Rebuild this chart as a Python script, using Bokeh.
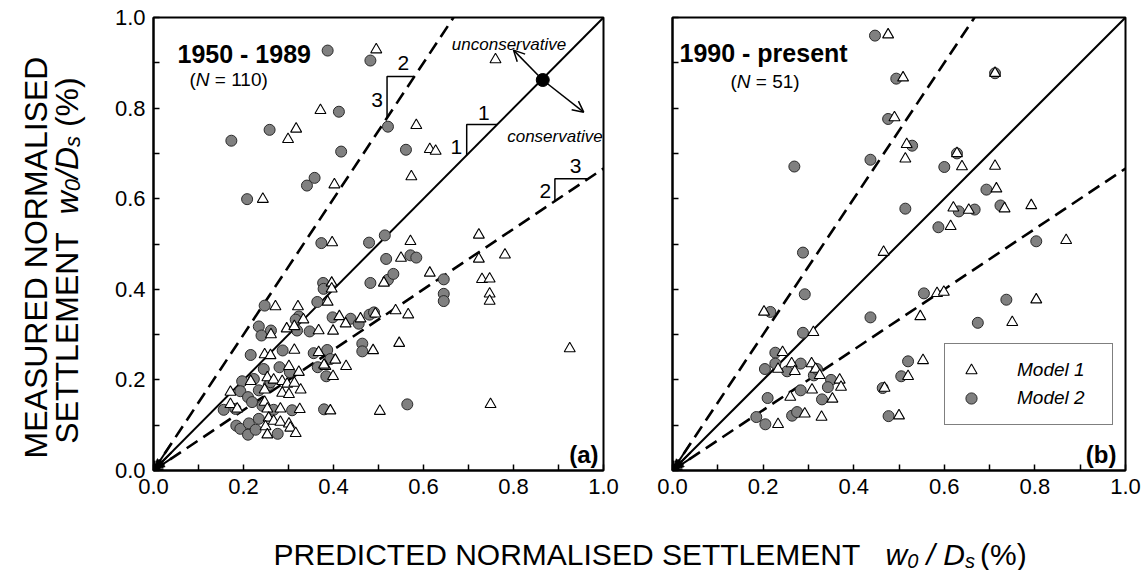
import math
from bokeh.plotting import figure
from bokeh.layouts import row, column
from bokeh.models import (Range1d, FixedTicker, PrintfTickFormatter, Label, Arrow,
                          NormalHead, OpenHead, Legend, LegendItem)
from bokeh.embed import file_html
from bokeh.resources import INLINE

FONT = "Liberation Sans"

# ---------------- data ----------------
# Panel (a) 1950 - 1989
a_model1_x = [0.495, 0.760, 0.371, 0.317, 0.299, 0.584, 0.614, 0.627, 0.573, 0.402,
              0.243, 0.397, 0.571, 0.723, 0.723, 0.781, 0.550, 0.396, 0.396, 0.512,
              0.614, 0.730, 0.747, 0.747, 0.747, 0.925, 0.749, 0.503, 0.271, 0.321,
              0.387, 0.413, 0.460, 0.493, 0.538, 0.566, 0.427, 0.399, 0.367, 0.333,
              0.296, 0.313, 0.261, 0.247, 0.260, 0.313, 0.367, 0.404, 0.382, 0.428,
              0.399, 0.488, 0.546, 0.393, 0.325, 0.282, 0.301, 0.323, 0.216, 0.253,
              0.267, 0.286, 0.297, 0.313, 0.171, 0.247, 0.286, 0.301, 0.327, 0.247,
              0.171, 0.186, 0.253, 0.256, 0.267, 0.282, 0.301, 0.249, 0.304, 0.253,
              0.316, 0.379]
a_model1_y = [0.929, 0.907, 0.795, 0.754, 0.731, 0.762, 0.709, 0.705, 0.649, 0.631,
              0.599, 0.503, 0.506, 0.520, 0.467, 0.476, 0.469, 0.414, 0.401, 0.414,
              0.436, 0.422, 0.423, 0.390, 0.374, 0.269, 0.146, 0.131, 0.362, 0.362,
              0.372, 0.340, 0.335, 0.346, 0.353, 0.344, 0.324, 0.308, 0.309, 0.333,
              0.313, 0.318, 0.300, 0.256, 0.254, 0.266, 0.261, 0.244, 0.230, 0.230,
              0.208, 0.265, 0.281, 0.132, 0.135, 0.136, 0.230, 0.217, 0.197, 0.205,
              0.200, 0.197, 0.191, 0.193, 0.173, 0.178, 0.171, 0.168, 0.178, 0.151,
              0.146, 0.136, 0.136, 0.116, 0.109, 0.107, 0.103, 0.097, 0.094, 0.079,
              0.082, 0.233]
a_model2_x = [0.387, 0.482, 0.412, 0.173, 0.258, 0.521, 0.417, 0.561, 0.341, 0.358,
              0.208, 0.373, 0.479, 0.514, 0.517, 0.571, 0.584, 0.377, 0.378, 0.482,
              0.521, 0.533, 0.645, 0.645, 0.645, 0.564, 0.247, 0.364, 0.398, 0.438,
              0.456, 0.480, 0.490, 0.347, 0.323, 0.316, 0.319, 0.234, 0.240, 0.261,
              0.216, 0.287, 0.356, 0.386, 0.393, 0.365, 0.384, 0.464, 0.464, 0.379,
              0.308, 0.245, 0.280, 0.303, 0.197, 0.223, 0.256, 0.193, 0.210, 0.219,
              0.234, 0.242, 0.156, 0.182, 0.267, 0.184, 0.193, 0.212, 0.210, 0.227,
              0.234, 0.276, 0.260]
a_model2_y = [0.927, 0.905, 0.792, 0.728, 0.752, 0.759, 0.704, 0.708, 0.629, 0.646,
              0.599, 0.502, 0.503, 0.519, 0.467, 0.475, 0.470, 0.414, 0.401, 0.414,
              0.421, 0.434, 0.422, 0.390, 0.374, 0.146, 0.364, 0.372, 0.338, 0.335,
              0.324, 0.344, 0.349, 0.307, 0.340, 0.333, 0.309, 0.318, 0.298, 0.309,
              0.255, 0.265, 0.259, 0.266, 0.246, 0.228, 0.208, 0.280, 0.263, 0.135,
              0.133, 0.224, 0.228, 0.217, 0.197, 0.202, 0.188, 0.175, 0.162, 0.151,
              0.177, 0.143, 0.134, 0.136, 0.134, 0.099, 0.092, 0.104, 0.079, 0.090,
              0.114, 0.081, 0.195]

# Panel (b) 1990 - present
b_model1_x = [0.476, 0.509, 0.712, 0.490, 0.517, 0.514, 0.628, 0.639, 0.712, 0.715,
              0.620, 0.654, 0.733, 0.792, 0.614, 0.869, 0.466, 0.584, 0.599, 0.803,
              0.547, 0.750, 0.202, 0.311, 0.243, 0.263, 0.233, 0.270, 0.307, 0.316,
              0.325, 0.369, 0.372, 0.308, 0.260, 0.353, 0.292, 0.329, 0.233, 0.553,
              0.520, 0.468, 0.500]
b_model1_y = [0.962, 0.867, 0.877, 0.779, 0.720, 0.688, 0.700, 0.671, 0.672, 0.622,
              0.580, 0.575, 0.578, 0.585, 0.539, 0.508, 0.482, 0.391, 0.394, 0.377,
              0.340, 0.327, 0.350, 0.305, 0.261, 0.236, 0.224, 0.219, 0.236, 0.224,
              0.210, 0.200, 0.184, 0.178, 0.162, 0.158, 0.125, 0.118, 0.102, 0.243,
              0.208, 0.182, 0.121]
b_model2_x = [0.447, 0.494, 0.712, 0.476, 0.529, 0.628, 0.269, 0.437, 0.600, 0.693,
              0.514, 0.632, 0.667, 0.724, 0.587, 0.803, 0.288, 0.292, 0.555, 0.737,
              0.437, 0.674, 0.216, 0.288, 0.227, 0.227, 0.204, 0.253, 0.283, 0.312,
              0.319, 0.350, 0.343, 0.283, 0.330, 0.210, 0.264, 0.275, 0.185, 0.205,
              0.520, 0.505, 0.464, 0.477]
b_model2_y = [0.960, 0.865, 0.877, 0.776, 0.717, 0.700, 0.671, 0.686, 0.670, 0.620,
              0.578, 0.572, 0.576, 0.585, 0.537, 0.506, 0.481, 0.389, 0.391, 0.377,
              0.338, 0.326, 0.350, 0.304, 0.260, 0.236, 0.224, 0.219, 0.236, 0.210,
              0.224, 0.200, 0.184, 0.177, 0.157, 0.160, 0.121, 0.129, 0.118, 0.102,
              0.241, 0.208, 0.182, 0.120]

major_ticks = [0.0, 0.2, 0.4, 0.6, 0.8, 1.0]
minor_ticks = [0.1, 0.3, 0.5, 0.7, 0.9]
bound_slopes = [1.0, 1.5, 1.0 / 1.5]          # 1:1, 3:2 and 2:3 lines
ref_point_x = [0.865]
ref_point_y = [0.862]

# --------------- helpers ---------------
AW = {' ': 278, '(': 333, ')': 333, '%': 889, '/': 278, '=': 584, '-': 333,
      'A': 667, 'C': 722, 'D': 722, 'E': 667, 'I': 278, 'L': 556, 'M': 833,
      'N': 722, 'O': 778, 'P': 667, 'R': 722, 'S': 667, 'T': 611, 'U': 722,
      'w': 722, 's': 500}


def tw(t, size):
    return sum(AW.get(c, 556) for c in t) * size / 1000.0


def style_axes(p, ylabels=True):
    for ax in (p.xaxis[0], p.yaxis[0]):
        ax.ticker = FixedTicker(ticks=major_ticks, minor_ticks=minor_ticks)
        ax.formatter = PrintfTickFormatter(format="%.1f")
        ax.axis_line_width = 2
        ax.axis_line_color = "black"
        ax.major_tick_in = 6
        ax.major_tick_out = 0
        ax.minor_tick_in = 6
        ax.minor_tick_out = 0
        ax.major_tick_line_width = 1.5
        ax.minor_tick_line_width = 1.5
        ax.major_tick_line_color = "black"
        ax.minor_tick_line_color = "black"
        ax.major_label_text_font = FONT
        ax.major_label_text_font_size = "22px"
        ax.major_label_text_color = "black"
        ax.major_label_standoff = 8
    if not ylabels:
        # ticks only, no labels: every tick position becomes a "minor" tick
        p.yaxis[0].ticker = FixedTicker(ticks=[], minor_ticks=sorted(major_ticks + minor_ticks))


def base_fig(width, left, right, x_range):
    p = figure(width=width, height=510, x_range=x_range, y_range=Range1d(0, 1),
               min_border_left=left, min_border_right=right, min_border_top=17,
               min_border_bottom=40, output_backend="svg", toolbar_location=None)
    p.grid.visible = False
    p.background_fill_color = "white"
    p.border_fill_color = "white"
    return p


def make_panel(width, left, right, mx, my, cx, cy, ylabels):
    p = base_fig(width, left, right, Range1d(0, 1))
    p.outline_line_color = "black"
    p.outline_line_width = 2
    for s in bound_slopes:
        xe = min(1.0, 1.0 / s)
        if s == 1.0:
            p.line([0.0, xe], [0.0, s * xe], line_color="black", line_width=2)
        else:
            p.line([0.0, xe], [0.0, s * xe], line_color="black", line_width=2.6,
                   line_dash="13 7")
    for s in bound_slopes:
        d = 0.04
        if s == 1.0:
            head = NormalHead(size=11, fill_color="black", line_color="black")
        else:
            head = OpenHead(size=9, line_color="black", line_width=2)
        p.add_layout(Arrow(end=head, x_start=d, y_start=s * d, x_end=0, y_end=0,
                           line_width=2, line_color="black"))
    rc = p.scatter(cx, cy, marker="circle", size=11, fill_color="#808080",
                   line_color="#2a2a2a", line_width=1)
    rt = p.scatter(mx, my, marker="triangle", size=11, fill_color="white",
                   line_color="black", line_width=1.1)
    style_axes(p, ylabels=ylabels)
    return p, rt, rc


def lab(p, x, y, t, size, style="normal", align="left", base="alphabetic", angle=0):
    p.add_layout(Label(x=x, y=y, text=t, text_font=FONT, text_font_size=f"{size}px",
                       text_font_style=style, text_align=align, text_baseline=base,
                       text_color="black", angle=angle))


def ay_(sy):
    return (470 - sy) / 453.0


# ---------------- y-axis title (own strip, same frame rows as the panels) ----------------
py = base_fig(100, 0, 0, Range1d(0, 100))
py.outline_line_color = None
py.xaxis.visible = False
py.yaxis.visible = False
up = math.pi / 2
F = 32
FS = 22
l1 = "MEASURED NORMALISED"
lab(py, 35, ay_(257), l1, F, align="center", angle=up)
pieces = [("SETTLEMENT", F, "normal", 0, 2 * tw(" ", F)), ("w", F, "italic", 0, 0),
          ("0", FS, "italic", 6, 0), ("/", F, "italic", 0, 0), ("D", F, "italic", 0, 0),
          ("s", FS, "italic", 6, tw(" ", F)), ("(%)", F, "normal", 0, 0)]
total = sum(tw(t, sz) + g for t, sz, _, _, g in pieces)
pos = 260 + total / 2
for t, sz, st, sub, gap in pieces:
    lab(py, 66 + sub, ay_(pos), t, sz, st, angle=up)
    pos -= tw(t, sz) + gap

# ---------------- panel (a) ----------------
pa, ta, ca = make_panel(520, 53, 17, a_model1_x, a_model1_y, a_model2_x, a_model2_y, True)


def ax_(sx):
    return (sx - 153) / 450.0


lab(pa, ax_(177), ay_(53), "1950 - 1989", 25, "bold")
sx0 = 189
lab(pa, ax_(sx0), ay_(79), "(", 19)
lab(pa, ax_(sx0 + tw("(", 19)), ay_(79), "N", 19, "italic")
lab(pa, ax_(sx0 + tw("(N ", 19)), ay_(79), "= 110)", 19)
lab(pa, 0.989, ay_(454), "(a)", 24, "bold", align="right")

tri_defs = [(1.5, 0.519, 0.870), (1.0, 0.696, 0.764), (1.0 / 1.5, 0.892, 0.644)]
for s, cxp, cyp in tri_defs:
    pa.line([cxp, cxp, cyp / s], [s * cxp, cyp, cyp], line_color="black", line_width=1.5)
lab(pa, 0.555, 0.899, "2", 21, align="center", base="middle")
lab(pa, 0.497, 0.817, "3", 21, align="center", base="middle")
lab(pa, 0.734, 0.789, "1", 21, align="center", base="middle")
lab(pa, 0.673, 0.715, "1", 21, align="center", base="middle")
lab(pa, 0.938, 0.672, "3", 21, align="center", base="middle")
lab(pa, 0.871, 0.617, "2", 21, align="center", base="middle")

pa.scatter(ref_point_x, ref_point_y, marker="circle", size=13, fill_color="black",
           line_color="black")
pa.add_layout(Arrow(end=OpenHead(size=11, line_width=1.5, line_color="black"),
                    x_start=ref_point_x[0], y_start=ref_point_y[0], x_end=0.80, y_end=0.928,
                    line_width=1.5, line_color="black"))
pa.add_layout(Arrow(end=OpenHead(size=11, line_width=1.5, line_color="black"),
                    x_start=ref_point_x[0], y_start=ref_point_y[0], x_end=0.956, y_end=0.791,
                    line_width=1.5, line_color="black"))
lab(pa, 0.663, 0.940, "unconservative", 17, "italic")
lab(pa, 0.786, 0.737, "conservative", 17, "italic")

# ---------------- panel (b) ----------------
pb, tb, cb = make_panel(527, 52, 22, b_model1_x, b_model1_y, b_model2_x, b_model2_y, False)


def bx_(sx):
    return (sx - 672) / 453.0


lab(pb, bx_(679), ay_(52), "1990 - present", 25, "bold")
sx0 = 730
lab(pb, bx_(sx0), ay_(81), "(", 19)
lab(pb, bx_(sx0 + tw("(", 19)), ay_(81), "N", 19, "italic")
lab(pb, bx_(sx0 + tw("(N ", 19)), ay_(81), "= 51)", 19)
lab(pb, 0.980, ay_(454), "(b)", 24, "bold", align="right")

legend = Legend(items=[LegendItem(label="Model 1", renderers=[tb]),
                       LegendItem(label="Model 2", renderers=[cb])],
                location=(272, 45), orientation="vertical",
                label_text_font=FONT, label_text_font_size="19px",
                label_text_font_style="italic", label_text_color="black",
                border_line_color="black", border_line_width=1.5,
                background_fill_color="white", background_fill_alpha=1.0,
                padding=12, spacing=0, margin=0, glyph_width=28, glyph_height=28,
                label_height=23, label_width=83, label_standoff=32)
pb.add_layout(legend)

# ---------------- x-axis title (own strip; y measured from its bottom) ----------------
pl = figure(width=1147, height=60, x_range=Range1d(0, 1147), y_range=Range1d(0, 60),
            min_border=0, output_backend="svg", toolbar_location=None,
            x_axis_location=None, y_axis_location=None)
pl.grid.visible = False
pl.outline_line_color = None
pl.background_fill_color = "white"
pl.border_fill_color = "white"
XF = 30
XS = 20
base_y = 60 - 44
lab(pl, 273, base_y, "PREDICTED NORMALISED SETTLEMENT", XF)
sp = tw(" ", XF)
xpieces = [("w", XF, "italic", 0, 0), ("0", XS, "italic", 6, sp), ("/", XF, "italic", 0, sp),
           ("D", XF, "italic", 0, 0), ("s", XS, "italic", 6, 5), ("(%)", XF, "normal", 0, 0)]
px = 885
for t, sz, st, sub, gap in xpieces:
    lab(pl, px, base_y - sub, t, sz, st)
    px += tw(t, sz) + gap

layout = column(row(py, pa, pb, spacing=0), pl, spacing=0)
open("out.html", "w").write(file_html(layout, INLINE))
